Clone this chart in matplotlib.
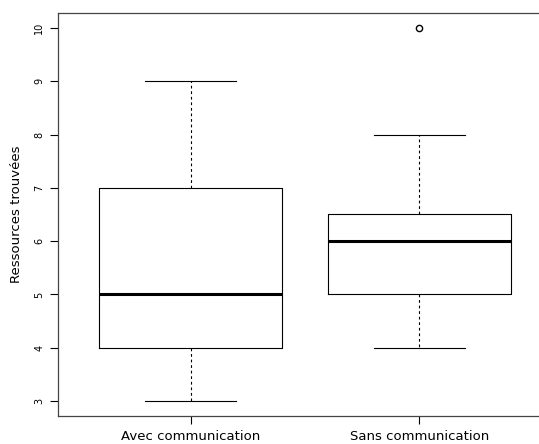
import matplotlib
matplotlib.use("Agg")
import matplotlib.pyplot as plt

categories = ["Avec communication", "Sans communication"]
whislo = [3, 4]
q1 = [4, 5]
med = [5, 6]
q3 = [7, 6.5]
whishi = [9, 8]
fliers = [[], [10]]
yticks = [3, 4, 5, 6, 7, 8, 9, 10]

stats = []
for i in range(len(categories)):
    stats.append(dict(whislo=whislo[i], q1=q1[i], med=med[i], q3=q3[i],
                      whishi=whishi[i], fliers=fliers[i], label=categories[i]))

fig = plt.figure(figsize=(5.39, 4.44), dpi=100)
W, H = 539, 444
ax = fig.add_axes([58 / W, 28 / H, (552 - 58) / W, (416 - 13) / H])

ax.bxp(stats, positions=[1, 2], widths=0.8, showfliers=True,
       boxprops=dict(color="black", linewidth=0.8),
       whiskerprops=dict(color="black", linewidth=0.8, linestyle=(0, (2.5, 2.5))),
       capprops=dict(color="black", linewidth=0.8),
       medianprops=dict(color="black", linewidth=2.2),
       flierprops=dict(marker="o", markersize=4.5, markerfacecolor="none",
                       markeredgecolor="black", markeredgewidth=1.0),
       capwidths=0.4)

ax.set_xlim(0.42, 2.58)
ax.set_ylim(2.72, 10.28)
ax.set_yticks(yticks)
ax.set_yticklabels([str(v) for v in yticks], rotation=90, va="center", fontsize=7)
ax.set_xticks([1, 2])
ax.set_xticklabels(categories, fontsize=9.5)
ax.tick_params(axis="y", length=6, width=0.8, pad=4)
ax.tick_params(axis="x", length=6, width=0.8, pad=4)
ax.set_ylabel("Ressources trouvées", fontsize=9.5, labelpad=8)
for s in ax.spines.values():
    s.set_linewidth(0.9)
    s.set_color("#444444")

fig.savefig("out.png", dpi=100)
